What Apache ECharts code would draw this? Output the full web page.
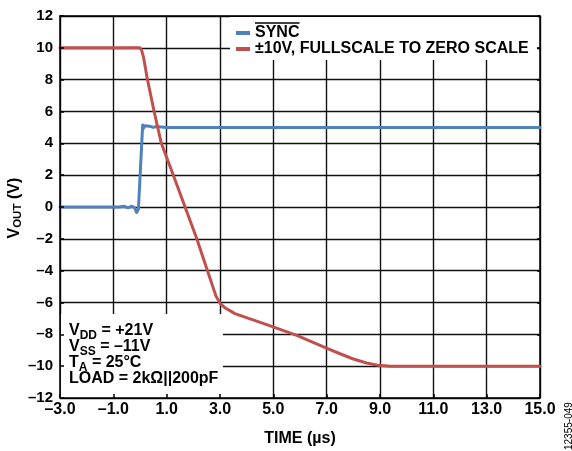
<!DOCTYPE html>
<html><head><meta charset="utf-8">
<script src="https://cdn.jsdelivr.net/npm/echarts@6/dist/echarts.min.js"></script>
<style>html,body{margin:0;padding:0;background:#fff}#c{width:572px;height:451px}</style>
</head><body><div id="c"></div>
<script>
// ---- data ----
const syncName = 'SYNC';
const rampName = '±10V, FULLSCALE TO ZERO SCALE';
const xMin = -3, xMax = 15, xStep = 2;      // TIME (µs)
const yMin = -12, yMax = 12, yStep = 2;     // VOUT (V)
const syncTime = [-3.0, -0.8, -0.6, -0.45, -0.3, -0.2, -0.13, -0.06, 0.1, 0.13, 0.18, 0.25, 0.35, 0.5, 0.6, 1.0, 5.5, 8.3, 10.8, 15.0];
const syncVolt = [0.0, 0.0, 0.05, -0.05, 0.05, -0.05, -0.35, -0.15, 5.15, 4.95, 5.1, 5.0, 5.08, 5.0, 5.05, 5.0, 5.0, 5.0, 5.0, 5.0];
const rampTime = [-3.0, 0.0, 0.06, 0.14, 0.28, 0.53, 0.8, 1.25, 1.69, 2.13, 2.53, 2.85, 3.0, 3.2, 3.56, 4.94, 5.88, 6.97, 7.5, 8.0, 8.5, 8.95, 9.38, 15.0];
const rampVolt = [10, 10, 9.85, 9.35, 8.0, 6.0, 4.0, 2.0, 0.0, -2.0, -4.0, -5.6, -6.05, -6.35, -6.7, -7.5, -8.07, -8.85, -9.22, -9.55, -9.8, -9.95, -10.0, -10.0];
const noteMain = ['V', 'V', 'T', 'LOAD = 2kΩ||200pF'];
const noteSub = ['DD', 'SS', 'A', ''];
const noteRest = [' = +21V', ' = –11V', ' = 25°C', ''];

// ---- rendering ----
const FF = '"Liberation Sans", Arial, Helvetica, sans-serif';
const X_OFF = xMin; // ticks are counted from 0 on the plotted axis
const fmtX = v => { const n = v + X_OFF; return (n < 0 ? '–' : '') + Math.abs(n).toFixed(1); };
const fmtY = v => (v < 0 ? '–' : '') + Math.abs(v);
const syncData = syncTime.map((t, i) => [t - X_OFF, syncVolt[i]]);
const rampData = rampTime.map((t, i) => [t - X_OFF, rampVolt[i]]);

const chart = echarts.init(document.getElementById('c'), null, {renderer: 'canvas'});

const bold16 = 'bold 16px ' + FF;
const bold12 = 'bold 12px ' + FF;
const noteTop = [330.5, 346.5, 362.5, 379];
const noteChildren = [];
const ctx = document.createElement('canvas').getContext('2d');
function w(txt, font) { ctx.font = font; return ctx.measureText(txt).width; }
noteMain.forEach((m, i) => {
  let x = 69;
  noteChildren.push({type: 'text', x: x, y: noteTop[i], z: 5, style: {text: m, font: bold16, fill: '#000', verticalAlign: 'middle', align: 'left'}});
  x += w(m, bold16);
  if (noteSub[i]) {
    noteChildren.push({type: 'text', x: x, y: noteTop[i] + 5, z: 5, style: {text: noteSub[i], font: bold12, fill: '#000', verticalAlign: 'middle', align: 'left'}});
    x += w(noteSub[i], bold12);
  }
  if (noteRest[i]) {
    noteChildren.push({type: 'text', x: x, y: noteTop[i], z: 5, style: {text: noteRest[i], font: bold16, fill: '#000', verticalAlign: 'middle', align: 'left'}});
  }
});

const subFont = 'bold 11.5px ' + FF;
const vW = w('V', bold16), outW = w('OUT', subFont);

const option = {
  animation: false,
  backgroundColor: '#fff',
  grid: {left: 60, right: 32, top: 16, bottom: 53, containLabel: false, outerBoundsMode: 'none'},
  legend: {
    orient: 'vertical', left: 236, top: 25, padding: 0, itemGap: 0,
    itemWidth: 14, itemHeight: 4, icon: 'rect', z: 4,
    textStyle: {fontFamily: FF, fontSize: 16, fontWeight: 'bold', color: '#000', lineHeight: 14},
    data: [syncName, rampName]
  },
  xAxis: [{
    type: 'value', position: 'bottom', min: 0, max: xMax - xMin, interval: xStep, z: 3,
    axisLine: {show: true, onZero: false, lineStyle: {color: '#000', width: 1.5}},
    axisTick: {show: true, inside: true, length: 4, lineStyle: {color: '#000', width: 1.5}},
    axisLabel: {formatter: fmtX, color: '#000', fontSize: 16, fontWeight: 'bold', fontFamily: FF, margin: 4, showMinLabel: true, showMaxLabel: true},
    splitLine: {show: false},
    name: 'TIME (µs)', nameLocation: 'middle', nameGap: 33,
    nameTextStyle: {color: '#000', fontSize: 16, fontWeight: 'bold', fontFamily: FF}
  }, {
    type: 'value', position: 'top', min: 0, max: xMax - xMin, interval: xStep, z: 0,
    axisLine: {show: true, onZero: false, lineStyle: {color: '#000', width: 1.5}},
    axisTick: {show: false}, axisLabel: {show: false},
    splitLine: {show: true, lineStyle: {color: '#111', width: 1.4}}
  }],
  yAxis: [{
    type: 'value', position: 'left', min: yMin, max: yMax, interval: yStep, z: 3,
    axisLine: {show: true, onZero: false, lineStyle: {color: '#000', width: 1.5}},
    axisTick: {show: true, inside: true, length: 4, lineStyle: {color: '#000', width: 1.5}},
    axisLabel: {formatter: fmtY, color: '#000', fontSize: 15, fontWeight: 'bold', fontFamily: FF, margin: 7, showMinLabel: true, showMaxLabel: true},
    splitLine: {show: false}
  }, {
    type: 'value', position: 'right', min: yMin, max: yMax, interval: yStep, z: 0,
    axisLine: {show: true, onZero: false, lineStyle: {color: '#000', width: 1.5}},
    axisTick: {show: true, inside: true, length: 3, lineStyle: {color: '#000', width: 1.5}},
    axisLabel: {show: false},
    splitLine: {show: true, lineStyle: {color: '#111', width: 1.4}}
  }],
  series: [{
    type: 'line', name: syncName, data: syncData, xAxisIndex: 0, yAxisIndex: 0,
    symbol: 'none', showSymbol: false, z: 2,
    lineStyle: {color: '#4F81BD', width: 3, join: 'round', cap: 'round'},
    itemStyle: {color: '#4F81BD'}
  }, {
    type: 'line', name: rampName, data: rampData, xAxisIndex: 0, yAxisIndex: 0,
    symbol: 'none', showSymbol: false, z: 2,
    lineStyle: {color: '#C0504D', width: 3, join: 'round', cap: 'round'},
    itemStyle: {color: '#C0504D'}
  }],
  graphic: [
    {type: 'rect', z: 1, shape: {x: 230, y: 17, width: 307, height: 43}, style: {fill: '#fff'}},
    {type: 'rect', z: 1, shape: {x: 60.8, y: 314, width: 162.2, height: 83.2}, style: {fill: '#fff'}},
    {type: 'line', z: 5, shape: {x1: 255, y1: 23, x2: 299.5, y2: 23}, style: {stroke: '#000', lineWidth: 1.5}},
    {type: 'group', z: 5, children: noteChildren},
    {type: 'group', x: 14.5, y: 238.5, rotation: Math.PI / 2, z: 5, children: [
      {type: 'text', x: 0, y: 0, style: {text: 'V', font: bold16, fill: '#000', verticalAlign: 'middle', align: 'left'}},
      {type: 'text', x: vW, y: 3.3, style: {text: 'OUT', font: subFont, fill: '#000', verticalAlign: 'middle', align: 'left'}},
      {type: 'text', x: vW + outW, y: 0, style: {text: ' (V)', font: bold16, fill: '#000', verticalAlign: 'middle', align: 'left'}}
    ]},
    {type: 'text', x: 568.8, y: 450, rotation: Math.PI / 2, z: 5,
      style: {text: '12355-049', font: '10px ' + FF, fill: '#000', verticalAlign: 'middle', align: 'left'}}
  ]
};
chart.setOption(option);
</script></body></html>
